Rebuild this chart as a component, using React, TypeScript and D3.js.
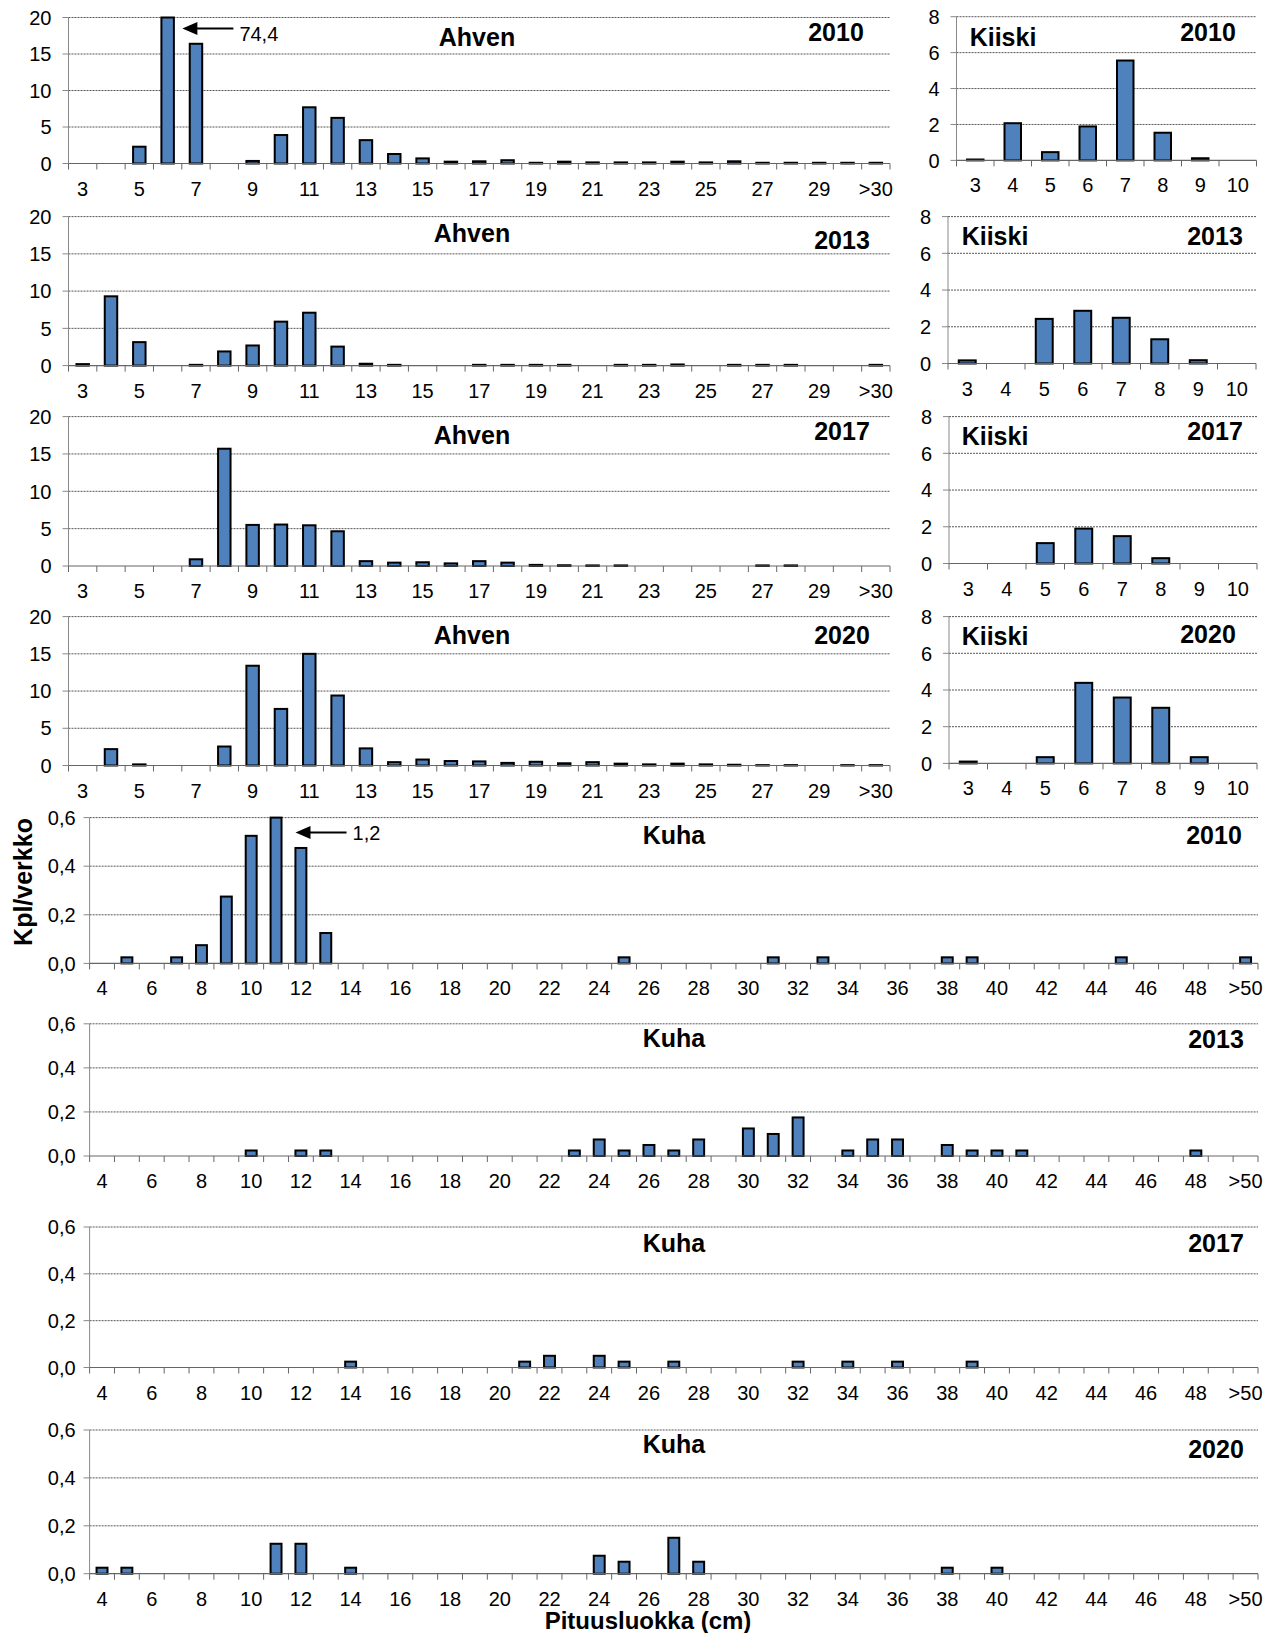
import React from 'react';
import * as d3 from 'd3';

// length classes (cm)
const ahvenCats = ['3', '4', '5', '6', '7', '8', '9', '10', '11', '12', '13', '14', '15', '16', '17', '18', '19', '20', '21', '22', '23', '24', '25', '26', '27', '28', '29', '30', '>30'];
const kiiskiCats = ['3', '4', '5', '6', '7', '8', '9', '10'];
const kuhaCats = ['4', '5', '6', '7', '8', '9', '10', '11', '12', '13', '14', '15', '16', '17', '18', '19', '20', '21', '22', '23', '24', '25', '26', '27', '28', '29', '30', '31', '32', '33', '34', '35', '36', '37', '38', '39', '40', '41', '42', '43', '44', '45', '46', '47', '48', '49', '>50'];

// Ahven (kpl/verkko)
const ahven2010 = [0, 0, 2.3, 74.4, 16.4, 0, 0.35, 3.9, 7.7, 6.25, 3.2, 1.3, 0.7, 0.25, 0.3, 0.45, 0.1, 0.25, 0.15, 0.15, 0.15, 0.25, 0.15, 0.3, 0.1, 0.1, 0.1, 0.1, 0.1];
const ahven2013 = [0.2, 9.3, 3.15, 0, 0.1, 1.9, 2.7, 5.9, 7.1, 2.55, 0.25, 0.1, 0, 0, 0.1, 0.1, 0.1, 0.1, 0, 0.1, 0.1, 0.15, 0, 0.1, 0.1, 0.1, 0, 0, 0.1];
const ahven2017 = [0, 0, 0, 0, 0.9, 15.7, 5.5, 5.55, 5.45, 4.65, 0.65, 0.45, 0.5, 0.35, 0.65, 0.45, 0.15, 0.1, 0.08, 0.08, 0, 0, 0, 0, 0.08, 0.08, 0, 0, 0];
const ahven2020 = [0, 2.2, 0.15, 0, 0, 2.55, 13.4, 7.6, 15.0, 9.4, 2.3, 0.45, 0.8, 0.6, 0.55, 0.35, 0.5, 0.3, 0.45, 0.25, 0.15, 0.25, 0.15, 0.1, 0.05, 0.05, 0, 0.05, 0.05];

// Kiiski
const kiiski2010 = [0.05, 2.07, 0.46, 1.89, 5.56, 1.54, 0.12, 0];
const kiiski2013 = [0.17, 0, 2.43, 2.87, 2.49, 1.32, 0.18, 0];
const kiiski2017 = [0, 0, 1.11, 1.9, 1.49, 0.29, 0, 0];
const kiiski2020 = [0.1, 0, 0.34, 4.39, 3.59, 3.03, 0.34, 0];

// Kuha
const kuha2010 = [
  0, 0.025, 0, 0.025, 0.075, 0.275, 0.525, 1.2, 0.475, 0.125,
  0, 0, 0, 0, 0, 0, 0, 0, 0, 0,
  0, 0.025, 0, 0, 0, 0, 0, 0.025, 0, 0.025,
  0, 0, 0, 0, 0.025, 0.025, 0, 0, 0, 0,
  0, 0.025, 0, 0, 0, 0, 0.025,
];
const kuha2013 = [
  0, 0, 0, 0, 0, 0, 0.025, 0, 0.025, 0.025,
  0, 0, 0, 0, 0, 0, 0, 0, 0, 0.025,
  0.075, 0.025, 0.05, 0.025, 0.075, 0, 0.125, 0.1, 0.175, 0,
  0.025, 0.075, 0.075, 0, 0.05, 0.025, 0.025, 0.025, 0, 0,
  0, 0, 0, 0, 0.025, 0, 0,
];
const kuha2017 = [
  0, 0, 0, 0, 0, 0, 0, 0, 0, 0,
  0.025, 0, 0, 0, 0, 0, 0, 0.025, 0.05, 0,
  0.05, 0.025, 0, 0.025, 0, 0, 0, 0, 0.025, 0,
  0.025, 0, 0.025, 0, 0, 0.025, 0, 0, 0, 0,
  0, 0, 0, 0, 0, 0, 0,
];
const kuha2020 = [
  0.025, 0.025, 0, 0, 0, 0, 0, 0.125, 0.125, 0,
  0.025, 0, 0, 0, 0, 0, 0, 0, 0, 0,
  0.075, 0.05, 0, 0.15, 0.05, 0, 0, 0, 0, 0,
  0, 0, 0, 0, 0.025, 0, 0.025, 0, 0, 0,
  0, 0, 0, 0, 0, 0, 0,
];

const ahvenTicks = [0, 5, 10, 15, 20];
const kiiskiTicks = [0, 2, 4, 6, 8];
const kuhaTicks = [0, 0.2, 0.4, 0.6];

const FONT = '"Liberation Sans", Arial, Helvetica, sans-serif';
const BLUE = '#4F81BD';

const fmt = (v: number, dec: number) => d3.format(`.${dec}f`)(v).replace('.', ',');

type PanelProps = {
  cats: string[];
  values: number[];
  ticks: number[];
  dec: number;
  every: number;
  gap: number;
  x0: number;
  x1: number;
  top: number;
  bottom: number;
  name: string;
  nameX: number;
  nameY: number;
  year: string;
  yearX: number;
  yearY: number;
  noteDx?: number;
  noteY?: number;
  noteTextDy?: number;
};

function Panel(p: PanelProps) {
  const yMax = p.ticks[p.ticks.length - 1];
  const x = d3.scaleBand<string>().domain(p.cats).range([p.x0, p.x1]).paddingInner(0.56).paddingOuter(0.28);
  const y = d3.scaleLinear().domain([0, yMax]).range([p.bottom, p.top]);
  const step = x.step();
  const bw = x.bandwidth();
  const over = p.values.findIndex((v) => v > yMax);

  let note = null;
  if (over >= 0 && p.noteY !== undefined) {
    const tip = (x(p.cats[over]) as number) + bw + (p.noteDx ?? 8);
    const ny = p.noteY;
    note = (
      <g>
        <path d={`M${tip},${ny} L${tip + 15},${ny - 6.5} L${tip + 15},${ny + 6.5} Z`} fill="#000" />
        <line x1={tip + 12} x2={tip + 51} y1={ny} y2={ny} stroke="#000" strokeWidth={1.8} />
        <text x={tip + 57} y={ny + (p.noteTextDy ?? 7)} fontSize={20}>{fmt(p.values[over], 1)}</text>
      </g>
    );
  }

  return (
    <g fontFamily={FONT}>
      {p.ticks.map((t) => (
        <g key={t}>
          {t > 0 && (
            <line x1={p.x0} x2={p.x1} y1={y(t)} y2={y(t)} stroke="#444" strokeWidth={0.9} strokeDasharray="2 1" />
          )}
          <line x1={p.x0 - 6} x2={p.x0} y1={y(t)} y2={y(t)} stroke="#888" />
          <text x={p.x0 - p.gap} y={y(t)} dy="0.36em" textAnchor="end" fontSize={20}>
            {fmt(t, p.dec)}
          </text>
        </g>
      ))}
      <line x1={p.x0} x2={p.x0} y1={p.top} y2={p.bottom} stroke="#888" />
      {p.cats.map((c, i) =>
        p.values[i] > 0 ? (
          <rect
            key={c}
            x={x(c)}
            y={y(Math.min(p.values[i], yMax))}
            width={bw}
            height={p.bottom - y(Math.min(p.values[i], yMax))}
            fill={BLUE}
            stroke="#000"
            strokeWidth={2}
          />
        ) : null
      )}
      <line x1={p.x0} x2={p.x1} y1={p.bottom} y2={p.bottom} stroke="#666" strokeWidth={1.2} />
      {d3.range(p.cats.length + 1).map((i) => (
        <line key={i} x1={p.x0 + i * step} x2={p.x0 + i * step} y1={p.bottom} y2={p.bottom + 6} stroke="#666" />
      ))}
      {p.cats.map((c, i) =>
        i % p.every === 0 ? (
          <text key={c} x={(x(c) as number) + bw / 2} y={p.bottom + 32} textAnchor="middle" fontSize={20}>
            {c}
          </text>
        ) : null
      )}
      <text x={p.nameX} y={p.nameY} textAnchor="middle" fontWeight="bold" fontSize={25}>{p.name}</text>
      <text x={p.yearX} y={p.yearY} textAnchor="middle" fontWeight="bold" fontSize={25}>{p.year}</text>
      {note}
    </g>
  );
}

export default function App() {
  const ahven = { cats: ahvenCats, ticks: ahvenTicks, dec: 0, every: 2, gap: 17, x0: 68.5, x1: 890, name: 'Ahven' };
  const kiiski = { cats: kiiskiCats, ticks: kiiskiTicks, dec: 0, every: 1, gap: 17, name: 'Kiiski' };
  const kuha = { cats: kuhaCats, ticks: kuhaTicks, dec: 1, every: 2, gap: 14, x0: 89.6, x1: 1258, name: 'Kuha' };
  return (
    <svg width={1279} height={1633} style={{ position: 'absolute', left: 0, top: 0, background: '#fff' }}>
      <rect width={1279} height={1633} fill="#fff" />
      <Panel {...ahven} values={ahven2010} top={17.5} bottom={163.5} nameX={477} nameY={45.5} year="2010" yearX={836} yearY={41} noteDx={8.5} noteY={28.5} noteTextDy={12} />
      <Panel {...ahven} values={ahven2013} top={216.6} bottom={365.6} nameX={472} nameY={242} year="2013" yearX={842} yearY={249} />
      <Panel {...ahven} values={ahven2017} top={416.6} bottom={566} nameX={472} nameY={444} year="2017" yearX={842} yearY={440} />
      <Panel {...ahven} values={ahven2020} top={616.6} bottom={765.5} nameX={472} nameY={644} year="2020" yearX={842} yearY={644} />

      <Panel {...kiiski} values={kiiski2010} x0={956.5} x1={1256.5} top={16.7} bottom={160.4} nameX={1003} nameY={45.5} year="2010" yearX={1208} yearY={41} />
      <Panel {...kiiski} values={kiiski2013} x0={948} x1={1256} top={216.6} bottom={363.5} nameX={995} nameY={245} year="2013" yearX={1215} yearY={245} />
      <Panel {...kiiski} values={kiiski2017} x0={949} x1={1257} top={416.6} bottom={563.5} nameX={995} nameY={445} year="2017" yearX={1215} yearY={440} />
      <Panel {...kiiski} values={kiiski2020} x0={949} x1={1257} top={616.6} bottom={763.4} nameX={995} nameY={645} year="2020" yearX={1208} yearY={643} />

      <Panel {...kuha} values={kuha2010} top={817.6} bottom={963.4} nameX={674} nameY={844} year="2010" yearX={1214} yearY={844} noteDx={14} noteY={832.5} noteTextDy={7} />
      <Panel {...kuha} values={kuha2013} top={1023.8} bottom={1156} nameX={674} nameY={1047} year="2013" yearX={1216} yearY={1048} />
      <Panel {...kuha} values={kuha2017} top={1227} bottom={1367.5} nameX={674} nameY={1251.5} year="2017" yearX={1216} yearY={1251.5} />
      <Panel {...kuha} values={kuha2020} top={1430} bottom={1573.7} nameX={674} nameY={1452.5} year="2020" yearX={1216} yearY={1458} />

      <text transform="translate(32,882) rotate(-90)" textAnchor="middle" fontFamily={FONT} fontWeight="bold" fontSize={25}>
        Kpl/verkko
      </text>
      <text x={648} y={1629} textAnchor="middle" fontFamily={FONT} fontWeight="bold" fontSize={24}>
        Pituusluokka (cm)
      </text>
    </svg>
  );
}
